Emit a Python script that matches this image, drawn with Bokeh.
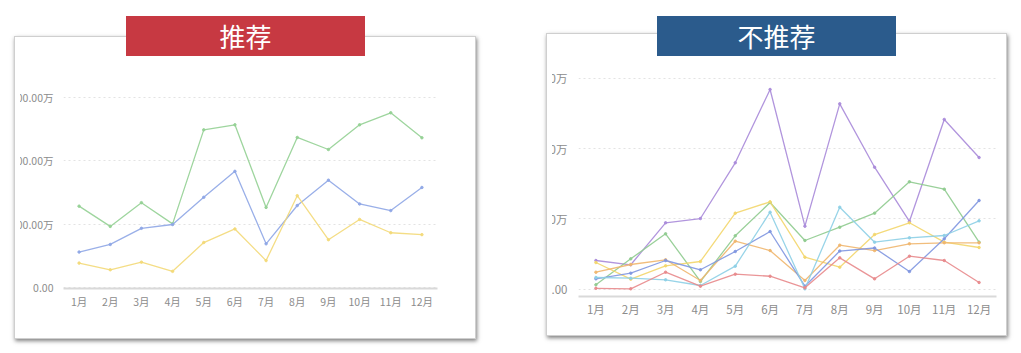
from bokeh.plotting import figure
from bokeh.models import FactorRange, Range1d, FixedTicker, Div
from bokeh.layouts import row, column
from bokeh.embed import file_html
from bokeh.resources import INLINE

months = ["1月", "2月", "3月", "4月", "5月", "6月", "7月", "8月", "9月", "10月", "11月", "12月"]

# 推荐 (unit: 万)
rec_green = [257, 193, 268, 201, 498, 514, 253, 474, 436, 514, 552, 473]
rec_blue = [112, 136, 187, 199, 285, 367, 138, 259, 339, 264, 243, 316]
rec_yellow = [77, 56, 80, 51, 142, 185, 85, 290, 151, 215, 173, 167]
rec_ticks = [0, 200, 400, 600]
rec_tick_labels = ["0.00", "200.00万", "400.00万", "600.00万"]

# 不推荐 (unit: 万)
non_purple = [406, 345, 943, 1004, 1798, 2842, 895, 2638, 1735, 962, 2415, 1873]
non_green = [60, 430, 786, 107, 758, 1232, 691, 880, 1080, 1527, 1422, 667]
non_yellow = [377, 140, 330, 392, 1080, 1242, 453, 311, 776, 943, 667, 591]
non_orange = [239, 349, 416, 121, 681, 548, 121, 624, 548, 644, 658, 658]
non_blue = [145, 225, 406, 274, 534, 819, 40, 541, 584, 249, 715, 1261]
non_cyan = [164, 154, 131, 50, 325, 1094, 3, 1165, 667, 729, 762, 971]
non_red = [10, 3, 239, 40, 211, 182, 17, 444, 145, 467, 406, 93]
non_ticks = [0, 1000, 2000, 3000]
non_tick_labels = ["0.00", "1000万", "2000万", "3000万"]

FONT = "Noto Sans CJK SC"
CARD_STYLE = {"border": "1px solid #cfcfcf", "background-color": "white",
              "box-shadow": "1px 2px 4px rgba(0,0,0,0.5)"}


def make_fig(width, height, borders, yr, ticks, labels, fsize, ystand, xstand, clip_left, margin):
    l, r, t, b = borders
    p = figure(width=width, height=height, x_range=FactorRange(*months),
               y_range=Range1d(*yr), output_backend="svg", toolbar_location=None,
               min_border_left=l, min_border_right=r, min_border_top=t, min_border_bottom=b,
               margin=margin, sizing_mode="fixed",
               styles={"clip-path": f"inset(0px 0px 0px {clip_left}px)"})
    p.outline_line_color = None
    p.background_fill_color = "white"
    p.border_fill_color = "white"
    p.xgrid.grid_line_color = None
    p.ygrid.grid_line_color = "#e3e3e3"
    p.ygrid.grid_line_dash = "2 3"
    p.ygrid.grid_line_width = 1
    p.yaxis.ticker = FixedTicker(ticks=ticks)
    p.yaxis.major_label_overrides = {tk: lb for tk, lb in zip(ticks, labels)}
    for ax in (p.xaxis[0], p.yaxis[0]):
        ax.major_tick_line_color = None
        ax.minor_tick_line_color = None
        ax.major_tick_out = 0
        ax.major_tick_in = 0
        ax.minor_tick_out = 0
        ax.minor_tick_in = 0
        ax.major_label_text_color = "#8c8c8c"
        ax.major_label_text_font = FONT
        ax.major_label_text_font_size = fsize
    p.yaxis.axis_line_color = None
    p.yaxis.major_label_standoff = ystand
    p.xaxis.axis_line_color = "#d9d9d9"
    p.xaxis.axis_line_width = 2
    p.xaxis.major_label_standoff = xstand
    return p


def add_series(p, ys, color):
    p.line(months, ys, line_color=color, line_width=1.3, line_alpha=0.9)
    p.scatter(months, ys, size=2.5, color=color, alpha=0.9)


def banner(text, color, left):
    return Div(text=text, width=239, height=40, margin=(16, 0, 0, left),
               styles={"z-index": "5", "background-color": color, "color": "white",
                       "font-size": "26px", "font-family": FONT, "text-align": "center",
                       "line-height": "40px"})


# left panel: card at x 14..476, y 36..339
p1 = make_fig(475, 301, (63, 38, 33, 50), (-3.2, 685.6), rec_ticks, rec_tick_labels,
              "10.5px", 10, 5, 20, (0, 0, 0, -15))
add_series(p1, rec_green, "#93d093")
add_series(p1, rec_blue, "#8ea6e6")
add_series(p1, rec_yellow, "#f3d978")
card1 = column(p1, margin=(-20, 34, 0, 14), styles=CARD_STYLE)
panel1 = column(banner("推荐", "#c73942", 126), card1)

# right panel: card at x 546..1007, y 33..336
p2 = make_fig(496, 301, (68, 10, 26, 39), (-106.8, 3255), non_ticks, non_tick_labels,
              "11.5px", 11, 4, 42, (0, 0, 0, -37))
add_series(p2, non_purple, "#a98ad9")
add_series(p2, non_green, "#8fcb8f")
add_series(p2, non_yellow, "#f3d66c")
add_series(p2, non_orange, "#f0b66e")
add_series(p2, non_blue, "#7f96e0")
add_series(p2, non_cyan, "#8dcfe6")
add_series(p2, non_red, "#e88a8c")
card2 = column(p2, margin=(-23, 0, 0, 36), styles=CARD_STYLE)
panel2 = column(banner("不推荐", "#2b5b8c", 147), card2)

layout = row(panel1, panel2)
open("out.html", "w").write(file_html(layout, INLINE))
